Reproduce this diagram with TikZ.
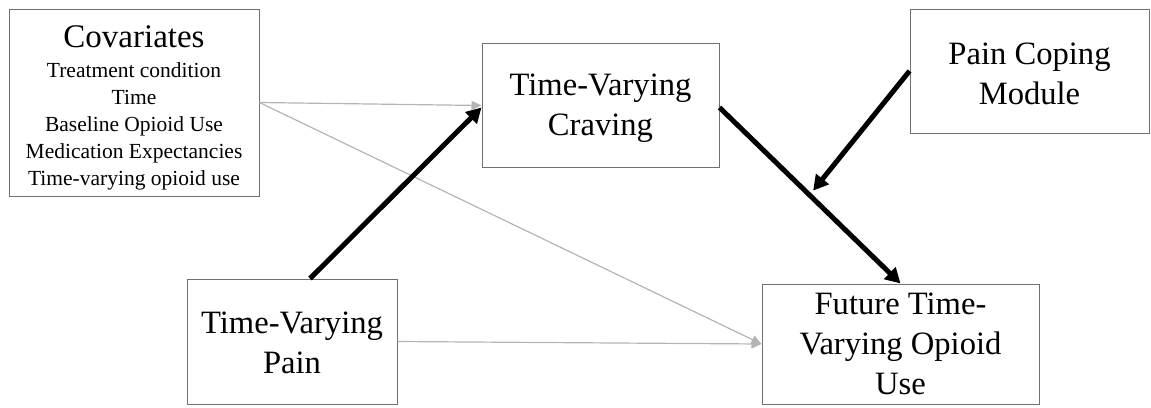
\documentclass[tikz,border=0pt]{standalone}
\usepackage{fontspec}
\setmainfont{Liberation Serif}
\usetikzlibrary{arrows.meta,calc}
\definecolor{boxgray}{HTML}{707070}
\definecolor{arrgray}{HTML}{B4B4B4}
\tikzset{
  box/.style={draw=boxgray, line width=1pt, inner sep=0pt},
  boxtext/.style={align=center, inner sep=0pt, font=\fontsize{32.6}{40}\selectfont},
  thick arrow/.style={line width=5pt, -{Triangle[length=15pt,width=16pt]}},
  thin arrow/.style={draw=arrgray, line width=1.2pt, -{Triangle[length=10pt,width=9pt]}, arrgray},
}
\begin{document}
\begin{tikzpicture}[x=1pt,y=-1pt]
\useasboundingbox (0,0) rectangle (1151,407);
\node[box, minimum width=250pt, minimum height=187pt] (cov) at (134,102.5) {};
\node[font=\fontsize{33}{34}\selectfont, anchor=base, inner sep=0pt] (covtitle) at (134,47) {Covariates};
\node[font=\fontsize{21.5}{27}\selectfont, align=center, inner sep=0pt, anchor=north] (covlist) at (134,62.5)
  {Treatment condition\\Time\\Baseline Opioid Use\\Medication Expectancies\\Time-varying opioid use};
\node[box, minimum width=237pt, minimum height=124pt] (crav) at (600.5,105.5) {};
\node[boxtext] (cravt) at ([yshift=-3pt]crav.center) {Time-Varying\\Craving};
\node[box, minimum width=239pt, minimum height=124pt] (pcm) at (1029.5,71) {};
\node[boxtext] (pcmt) at ([yshift=-3pt]pcm.center) {Pain Coping\\Module};
\node[box, minimum width=210pt, minimum height=125pt] (pain) at (292,341.5) {};
\node[boxtext] (paint) at ([yshift=-1pt]pain.center) {Time-Varying\\Pain};
\node[box, minimum width=277pt, minimum height=120pt] (fut) at (900.5,344) {};
\node[boxtext] (futt) at (fut.center) {Future Time-\\Varying Opioid\\Use};
\coordinate (mid) at ($(crav.east)!0.5!(fut.north)$);
\draw[thin arrow] (cov.east) -- (crav.west);
\draw[thin arrow] (cov.east) -- (fut.west);
\draw[thin arrow] (pain.east) -- (fut.west);
\draw[thick arrow] ([xshift=18pt]pain.north) -- ([yshift=-2pt]crav.west);
\draw[thick arrow] ([yshift=-2pt]crav.east) -- (fut.north);
\draw[thick arrow, shorten >=5pt] (pcm.west) -- (mid);
\end{tikzpicture}
\end{document}
